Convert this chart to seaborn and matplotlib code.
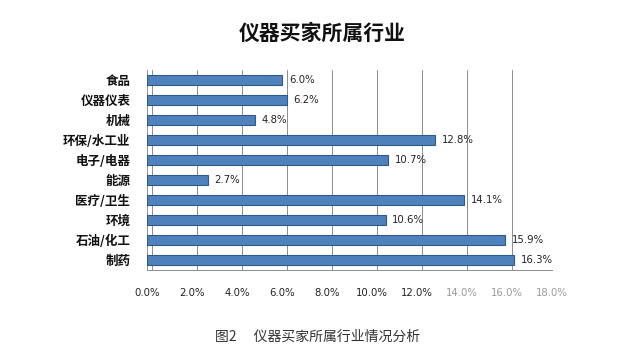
import matplotlib
matplotlib.use("Agg")
import matplotlib.pyplot as plt
import seaborn as sns
import pandas as pd

categories = ["食品", "仪器仪表", "机械", "环保/水工业", "电子/电器", "能源", "医疗/卫生", "环境", "石油/化工", "制药"]
values = [6.0, 6.2, 4.8, 12.8, 10.7, 2.7, 14.1, 10.6, 15.9, 16.3]
xticks = [0, 2, 4, 6, 8, 10, 12, 14, 16, 18]
title = "仪器买家所属行业"
caption = "图2　 仪器买家所属行业情况分析"

sns.set_theme(style="white")
plt.rcParams['font.family'] = ['Noto Sans CJK SC', 'DejaVu Sans']

df = pd.DataFrame({"cat": categories, "val": values})

fig = plt.figure(figsize=(6.43, 3.56), dpi=100)
ax = fig.add_axes([147/643, 1-270/356, 405/643, 200/356])

sns.barplot(data=df, x="val", y="cat", orient="h", color="#4F81BD",
            width=0.47, edgecolor="#2E5A8C", linewidth=0.8, saturation=1, ax=ax, zorder=3)

ax.set_xlim(0, 18)
ax.set_ylim(9.5, -0.5)
ax.set_xticks(xticks)
ax.set_xticklabels([f"{t:.1f}%" for t in xticks], fontfamily="DejaVu Sans", fontsize=7.3, color="#222222")
for lbl in ax.get_xticklabels()[7:]:
    lbl.set_color("#9a9a9a")
ax.tick_params(axis="x", pad=13, length=0)
ax.tick_params(axis="y", pad=12, length=0)
for lbl in ax.get_yticklabels():
    lbl.set_fontweight("bold")
    lbl.set_fontsize(9)
    lbl.set_color("#111111")
ax.set_xlabel("")
ax.set_ylabel("")

for x in xticks:
    ax.axvline(x + 0.22, color="#8c8c8c", linewidth=0.7, zorder=1)
for s in ["top", "right"]:
    ax.spines[s].set_visible(False)
ax.spines["left"].set_color("#8c8c8c")
ax.spines["left"].set_linewidth(0.7)
ax.spines["bottom"].set_color("#8c8c8c")
ax.spines["bottom"].set_linewidth(0.7)

for i, v in enumerate(values):
    ax.text(v + 0.3, i, f"{v:.1f}%", va="center", ha="left",
            fontfamily="DejaVu Sans", fontsize=7.3, color="#222222", zorder=4)

fig.text(322/643, 1-33/356, title, ha="center", va="center", fontsize=15, fontweight="bold", color="#111111")
fig.text(215/643, 1-337/356, caption, ha="left", va="center", fontsize=10, color="#333333")

fig.savefig("out.png", dpi=100, facecolor="white")
